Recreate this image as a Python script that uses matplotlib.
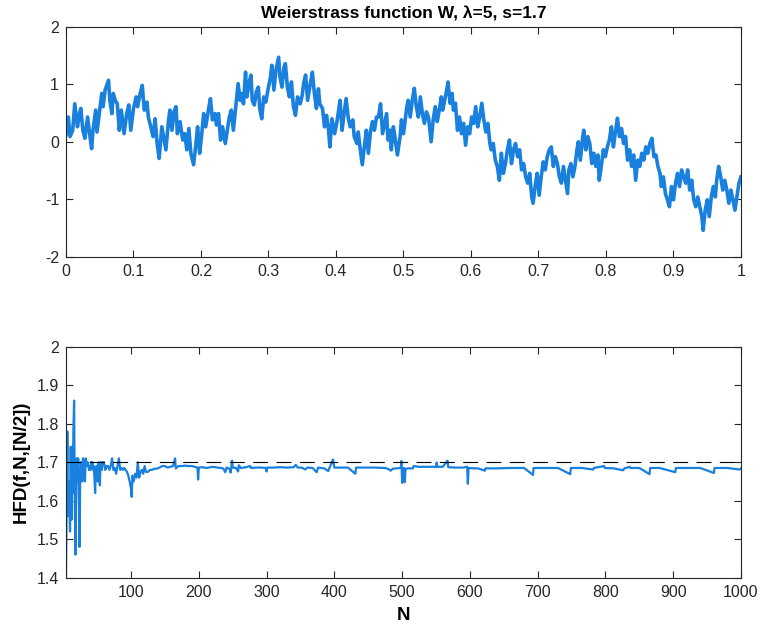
import matplotlib
matplotlib.use('Agg')
import matplotlib.pyplot as plt

plt.rcParams['font.family'] = ['Liberation Sans', 'DejaVu Sans']
plt.rcParams['axes.unicode_minus'] = False

# Weierstrass curve (peaks / troughs of the band)
w_x = [0.000, 0.001, 0.0035, 0.006, 0.010, 0.013, 0.017, 0.020, 0.022, 0.025, 0.028, 0.032, 0.035, 0.038, 0.040,
       0.044, 0.046, 0.049, 0.053, 0.055, 0.058, 0.063, 0.065, 0.068, 0.070, 0.073, 0.076, 0.079, 0.082, 0.086,
       0.090, 0.093, 0.096, 0.100, 0.104, 0.106, 0.110, 0.113, 0.116, 0.120, 0.122, 0.125, 0.129, 0.132, 0.135,
       0.138, 0.142, 0.145, 0.148, 0.152, 0.154, 0.157, 0.160, 0.163, 0.165, 0.169, 0.173, 0.176, 0.179, 0.182,
       0.185, 0.189, 0.192, 0.195, 0.198, 0.201, 0.204, 0.207, 0.211, 0.214, 0.217, 0.221, 0.223, 0.226, 0.229,
       0.232, 0.236, 0.239, 0.242, 0.245, 0.248, 0.252, 0.255, 0.258,
       0.260, 0.263, 0.266, 0.268, 0.271, 0.274, 0.276, 0.279, 0.282, 0.285, 0.287, 0.290, 0.293, 0.296, 0.300,
       0.303, 0.305, 0.308, 0.311, 0.315, 0.317, 0.320, 0.323, 0.325, 0.328, 0.331, 0.334, 0.337, 0.340, 0.343,
       0.347, 0.350, 0.352, 0.355, 0.358, 0.362, 0.365, 0.368, 0.371, 0.374, 0.376, 0.380, 0.383, 0.386, 0.389,
       0.391, 0.394, 0.398, 0.401, 0.404, 0.406, 0.409, 0.412, 0.415, 0.418, 0.421, 0.425, 0.427, 0.431, 0.433,
       0.436, 0.439, 0.442, 0.445, 0.448, 0.451, 0.454, 0.457, 0.460, 0.463, 0.466, 0.469, 0.472, 0.475, 0.477,
       0.480, 0.482, 0.485, 0.488, 0.491, 0.495, 0.497, 0.500,
       0.505, 0.507, 0.510, 0.513, 0.516, 0.519, 0.522, 0.525, 0.528, 0.531, 0.534, 0.537, 0.541, 0.544, 0.547,
       0.550, 0.553, 0.556, 0.558, 0.561, 0.564, 0.566, 0.569, 0.572, 0.574, 0.577, 0.580, 0.583, 0.586, 0.589,
       0.592, 0.595, 0.598, 0.601, 0.604, 0.607, 0.610, 0.613, 0.616, 0.619, 0.622, 0.625, 0.628, 0.630, 0.633,
       0.636, 0.639, 0.642, 0.645, 0.648, 0.651, 0.654, 0.657, 0.660, 0.663, 0.666, 0.669, 0.672, 0.675, 0.678,
       0.681, 0.684, 0.687, 0.690, 0.692, 0.695, 0.698, 0.701, 0.704, 0.707, 0.710, 0.713, 0.716, 0.719, 0.722,
       0.725, 0.728, 0.731, 0.734, 0.737, 0.740, 0.743, 0.745, 0.748, 0.751,
       0.754, 0.757, 0.759, 0.762, 0.765, 0.767, 0.770, 0.773, 0.776, 0.779, 0.782, 0.785, 0.788, 0.790, 0.793,
       0.796, 0.799, 0.802, 0.805, 0.808, 0.811, 0.814, 0.817, 0.820, 0.823, 0.826, 0.829, 0.832, 0.835, 0.838,
       0.841, 0.844, 0.847, 0.850, 0.853, 0.856, 0.859, 0.862, 0.865, 0.868, 0.871, 0.874, 0.877, 0.880, 0.882,
       0.885, 0.888, 0.891, 0.894, 0.897, 0.900, 0.903, 0.906, 0.909, 0.912, 0.915, 0.918, 0.921, 0.924, 0.927,
       0.930, 0.933, 0.936, 0.939, 0.942, 0.944, 0.947, 0.950, 0.953, 0.956, 0.959, 0.962, 0.964, 0.967, 0.970,
       0.973, 0.976, 0.979, 0.982, 0.985, 0.988, 0.991, 0.994, 0.997, 1.000]
w_y = [0.12, 0.26, 0.43, 0.09, 0.20, 0.66, 0.26, 0.49, 0.58, 0.20, 0.06, 0.43, 0.14, -0.12, 0.20,
       0.55, 0.17, 0.46, 0.84, 0.61, 0.90, 1.07, 0.72, 0.49, 0.84, 0.72, 0.66, 0.20, 0.55, 0.14,
       0.49, 0.64, 0.20, 0.58, 0.78, 0.61, 0.84, 0.98, 0.55, 0.69, 0.43, 0.29, 0.09, 0.40, -0.03,
       -0.29, 0.26, 0.06, -0.14, 0.38, 0.55, 0.20, 0.52, 0.61, 0.14, 0.35, 0.03, 0.14, -0.14, 0.23,
       -0.20, -0.40, -0.09, 0.26, -0.20, 0.12, 0.49, 0.26, 0.55, 0.75, 0.38, 0.49, 0.29, 0.49, 0.03,
       0.26, -0.03, 0.20, 0.43, 0.55, 0.20, 0.66, 1.01, 0.72,
       0.84, 0.66, 1.21, 0.78, 1.01, 1.16, 0.72, 0.64, 0.87, 0.95, 0.58, 0.40, 0.78, 0.69, 0.95,
       1.13, 1.33, 0.90, 1.24, 1.47, 1.13, 0.95, 1.30, 1.36, 0.95, 0.78, 1.04, 0.61, 0.46, 0.78,
       0.66, 0.81, 1.01, 1.16, 0.72, 1.01, 1.21, 0.84, 0.58, 0.92, 0.66, 0.58, 0.26, 0.46, 0.20,
       -0.09, 0.40, 0.14, 0.32, 0.55, 0.72, 0.20, 0.49, 0.75, 0.43, 0.26, 0.38, 0.09, -0.03, 0.17,
       -0.14, -0.40, -0.09, 0.20, -0.20, 0.17, 0.35, 0.20, 0.43, 0.43, 0.66, 0.14, 0.32, 0.49, 0.03,
       0.20, -0.14, 0.26, 0.03, -0.23, 0.09, 0.38, 0.14,
       0.61, 0.72, 0.43, 0.72, 0.93, 0.61, 0.43, 0.78, 0.49, 0.32, 0.52, 0.43, 0.00, 0.38, 0.61,
       0.35, 0.55, 0.78, 0.55, 0.72, 0.90, 1.04, 0.67, 0.84, 0.55, 0.67, 0.20, 0.43, 0.14, 0.32,
       -0.06, 0.26, 0.14, 0.43, 0.32, 0.61, 0.26, 0.43, 0.67, 0.38, 0.17, 0.32, -0.03, -0.14, -0.03,
       -0.32, -0.43, -0.67, -0.20, -0.55, -0.38, -0.14, 0.03, -0.38, -0.14, -0.03, -0.26, -0.14, -0.49, -0.38,
       -0.61, -0.72, -0.55, -0.96, -1.07, -0.78, -0.55, -0.93, -0.61, -0.35, -0.49, -0.26, -0.14, -0.09, -0.43,
       -0.26, -0.38, -0.61, -0.72, -0.43, -0.67, -0.90, -0.49, -0.38, -0.61,
       -0.43, -0.14, 0.00, -0.32, 0.03, 0.20, -0.14, 0.09, -0.03, -0.38, -0.20, -0.43, -0.23, -0.67, -0.43,
       -0.14, -0.26, -0.09, 0.03, 0.26, -0.09, 0.17, 0.41, 0.09, 0.23, -0.03, 0.09, -0.32, -0.14, -0.43,
       -0.23, -0.67, -0.32, -0.43, -0.20, -0.32, -0.09, -0.20, -0.03, 0.06, -0.26, -0.23, -0.43, -0.55, -0.78,
       -0.61, -0.90, -1.01, -1.13, -0.78, -1.01, -0.72, -0.55, -0.78, -0.49, -0.61, -0.72, -0.49, -0.84, -0.67,
       -1.01, -1.13, -0.96, -1.13, -1.30, -1.54, -1.19, -1.01, -1.30, -0.96, -0.78, -0.96, -0.67, -0.43, -0.61,
       -0.84, -0.67, -0.84, -1.07, -0.84, -1.01, -1.19, -0.96, -0.72, -0.61]

# Higuchi fractal dimension vs N
hfd_n = [4, 5, 6, 7, 8, 9, 10, 11, 12, 13, 14, 15, 16, 17, 18, 19, 20, 21, 22, 23, 24, 25, 26, 27, 28, 29,
         30, 31, 32, 33, 34, 35, 36, 37, 38, 39, 40, 41, 42, 43, 44, 45, 46, 47, 48, 49, 50, 51, 52, 53, 54,
         55, 56, 57, 58, 60, 62, 64, 66, 68, 70, 72, 74, 76, 78, 80, 82, 84, 86, 88, 90, 92, 94, 96, 98,
         100, 101, 102, 104, 106, 108, 110, 112, 114, 116, 118, 120, 122, 125, 128, 131, 134, 138, 142, 146,
         150, 154, 158, 162, 165, 166, 170, 175, 180, 185, 190, 194, 198, 199, 200,
         205, 212, 220, 228, 236, 239, 241, 245, 247, 248, 249, 250, 255, 258, 259, 262, 270, 276, 277, 285,
         292, 299, 300, 301, 310, 320, 330, 340, 343, 346, 352, 357, 360, 368, 374, 376, 385, 391, 393, 398,
         400, 410, 420, 431, 432, 445, 460, 475, 480, 483, 486, 493, 498, 499, 500, 501, 503, 504, 505, 510,
         516, 517, 525, 540, 550, 551, 552, 560, 567, 568, 580, 590, 596, 597, 598, 605, 612, 622, 623, 640,
         660, 680, 693, 694, 710, 730, 748, 749, 765, 782, 783, 798, 799, 812, 826, 828, 836, 837, 850, 865,
         866, 880, 903, 904, 920, 940, 960, 961, 980, 998, 1000]
hfd_y = [1.40, 1.60, 1.78, 1.56, 1.65, 1.58, 1.52, 1.74, 1.55, 1.74, 1.62, 1.79, 1.86, 1.60, 1.46, 1.65, 1.71,
         1.65, 1.71, 1.60, 1.48, 1.66, 1.70, 1.67, 1.65, 1.71,
         1.70, 1.68, 1.65, 1.71, 1.70, 1.69, 1.70, 1.69, 1.68, 1.69, 1.68, 1.70, 1.69, 1.70, 1.68, 1.69, 1.66,
         1.62, 1.68, 1.69, 1.68, 1.65, 1.70, 1.68, 1.64,
         1.70, 1.69, 1.68, 1.70, 1.70, 1.68, 1.69, 1.69, 1.68, 1.69, 1.71, 1.68, 1.685, 1.67, 1.69, 1.71, 1.68,
         1.685, 1.68, 1.685, 1.68, 1.675, 1.665, 1.65,
         1.63, 1.61, 1.665, 1.65, 1.67, 1.66, 1.70, 1.66, 1.675, 1.68, 1.67, 1.69, 1.675, 1.675, 1.68, 1.68,
         1.683, 1.683, 1.686, 1.69,
         1.69, 1.686, 1.688, 1.69, 1.71, 1.684, 1.69, 1.69, 1.691, 1.69, 1.69, 1.688, 1.686, 1.655, 1.686,
         1.687, 1.685, 1.688, 1.686, 1.684, 1.674, 1.686, 1.683, 1.673, 1.688, 1.704, 1.686, 1.685, 1.676,
         1.692, 1.685, 1.687, 1.690, 1.685, 1.686,
         1.686, 1.685, 1.676, 1.686, 1.686, 1.687, 1.686, 1.687, 1.693, 1.686, 1.686, 1.681, 1.686, 1.685,
         1.674, 1.686, 1.684, 1.677, 1.686, 1.707,
         1.686, 1.686, 1.686, 1.670, 1.686, 1.686, 1.686, 1.685, 1.682, 1.678, 1.683, 1.684, 1.685, 1.703,
         1.646, 1.684, 1.685, 1.648, 1.683, 1.684,
         1.684, 1.690, 1.688, 1.688, 1.688, 1.699, 1.688, 1.688, 1.704, 1.687, 1.686, 1.686, 1.688, 1.644,
         1.685, 1.684, 1.684, 1.678, 1.684, 1.684,
         1.685, 1.685, 1.667, 1.685, 1.685, 1.685, 1.669, 1.685, 1.685, 1.681, 1.685, 1.690, 1.685, 1.684,
         1.679, 1.684, 1.688, 1.685, 1.685, 1.669,
         1.685, 1.685, 1.674, 1.685, 1.685, 1.685, 1.672, 1.685, 1.685, 1.681, 1.684]

s_value = 1.7
lam = 5

blue = '#1980de'
axcol = '#262626'

fig = plt.figure(figsize=(7.61, 6.30), dpi=100)

def style_axes(ax):
    for sp in ax.spines.values():
        sp.set_color(axcol)
        sp.set_linewidth(0.8)
    ax.tick_params(direction='in', length=5, width=0.8, colors=axcol, labelsize=11.5,
                   top=True, right=True, pad=5)

# top panel: the function itself
ax1 = fig.add_axes([0.0867, 0.5925, 0.887, 0.365])
ax1.plot(w_x, w_y, color=blue, linewidth=2.6)
ax1.set_xlim(0, 1)
ax1.set_ylim(-2, 2)
ax1.set_xticks([i / 10 for i in range(11)])
ax1.set_xticklabels(['0', '0.1', '0.2', '0.3', '0.4', '0.5', '0.6', '0.7', '0.8', '0.9', '1'])
ax1.set_yticks([-2, -1, 0, 1, 2])
ax1.set_title(f'Weierstrass function W, λ={lam}, s={s_value}', fontsize=12.5, fontweight='bold',
              color='black', pad=6)
style_axes(ax1)

# bottom panel: HFD estimate
ax2 = fig.add_axes([0.0867, 0.083, 0.887, 0.3667])
ax2.plot(hfd_n, hfd_y, color=blue, linewidth=1.6)
ax2.axhline(s_value, color='black', linewidth=0.8, dashes=(13.5, 7.5))
ax2.set_xlim(4, 1000)
ax2.set_ylim(1.4, 2)
ax2.set_xticks(list(range(100, 1001, 100)))
ax2.set_yticks([1.4, 1.5, 1.6, 1.7, 1.8, 1.9, 2.0])
ax2.set_yticklabels(['1.4', '1.5', '1.6', '1.7', '1.8', '1.9', '2'])
ax2.set_xlabel('N', fontsize=13.5, fontweight='bold', color='black', labelpad=5)
ax2.set_ylabel('HFD(f,N,[N/2])', fontsize=13.5, fontweight='bold', color='black', labelpad=5)
style_axes(ax2)

fig.savefig('out.png', dpi=100)
